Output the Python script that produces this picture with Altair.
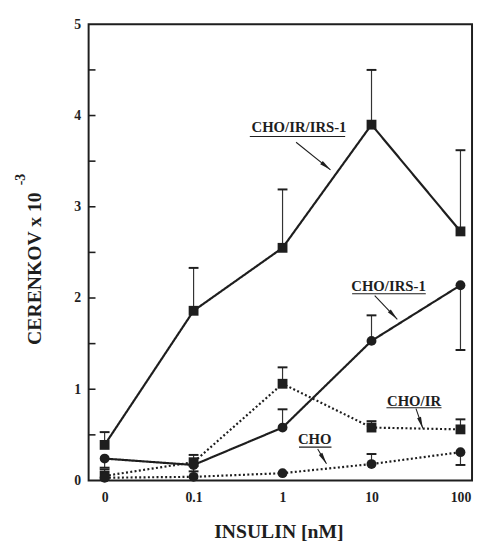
import math
import altair as alt
import pandas as pd

# ---- data ----
doses = ["0", "0.1", "1", "10", "100"]
series_names = ["CHO/IR/IRS-1", "CHO/IRS-1", "CHO/IR", "CHO"]
irirs_mean = [0.39, 1.86, 2.55, 3.90, 2.73]
irirs_err = [0.53, 2.33, 3.19, 4.50, 3.62]
irs_mean = [0.24, 0.17, 0.58, 1.53, 2.14]
irs_err = [0.14, 0.10, 0.78, 1.81, 1.43]
ir_mean = [0.05, 0.20, 1.06, 0.58, 0.56]
ir_err = [0.12, 0.28, 1.24, 0.65, 0.67]
cho_mean = [0.03, 0.04, 0.08, 0.18, 0.31]
cho_err = [None, None, None, 0.29, 0.17]
y_ticks = [0, 1, 2, 3, 4, 5]
y_minor = [0.5, 1, 1.5, 2, 2.5, 3, 3.5, 4, 4.5]

# annotation label anchors (data coordinates)
ann_label = ["CHO/IR/IRS-1", "CHO/IRS-1", "CHO/IR", "CHO"]
ann_x = [2.185, 3.191, 3.478, 2.362]
ann_y = [3.87, 2.134, 0.873, 0.453]
ann_ux1 = [1.632, 2.782, 3.168, 2.185]
ann_ux2 = [2.704, 3.610, 3.787, 2.550]
ann_uy = [3.77, 2.047, 0.797, 0.366]
arr_x1 = [2.152, 3.036, 3.500, 2.395]
arr_y1 = [3.707, 2.026, 0.787, 0.345]
arr_x2 = [2.539, 3.290, 3.577, 2.494]
arr_y2 = [3.405, 1.767, 0.571, 0.183]

means = [irirs_mean, irs_mean, ir_mean, cho_mean]
errs = [irirs_err, irs_err, ir_err, cho_err]
shapes = ["square", "circle", "square", "circle"]
dashes = ["solid", "solid", "dotted", "dotted"]

rows = []
for s, m, e, sh, da in zip(series_names, means, errs, shapes, dashes):
    for i, (mv, ev) in enumerate(zip(m, e)):
        rows.append(dict(series=s, idx=i, mean=mv, err=ev, shape=sh, dash=da))
df = pd.DataFrame(rows)
df_err = df.dropna(subset=["err"])

W, H = 390, 464
XDOM = [-0.18, 4.13]
YDOM = [0, 5]
px_x = W / (XDOM[1] - XDOM[0])
px_y = H / (YDOM[1] - YDOM[0])

ann = pd.DataFrame(dict(label=ann_label, x=ann_x, y=ann_y, ux1=ann_ux1, ux2=ann_ux2,
                        uy=ann_uy, ax1=arr_x1, ay1=arr_y1, ax2=arr_x2, ay2=arr_y2))
ang = []
for a in ann.itertuples():
    dx = (a.ax2 - a.ax1) * px_x
    dy = -(a.ay2 - a.ay1) * px_y
    ang.append(math.degrees(math.atan2(dx, -dy)) % 360)
ann["angle"] = ang

INK = "#1e1e1e"
FONT = "Liberation Serif"

xs = alt.Scale(domain=XDOM, nice=False, zero=False)
ys = alt.Scale(domain=YDOM, nice=False)

x_enc = alt.X("idx:Q", scale=xs, axis=alt.Axis(
    values=[0, 1, 2, 3, 4],
    labelExpr="['0','0.1','1','10','100'][datum.value]",
    tickSize=0, domain=False, grid=False, labelPadding=10,
    labelFontSize=14, labelFont=FONT, labelFontWeight="bold", labelColor=INK,
    title="INSULIN [nM]", titleFontSize=20, titleFont=FONT, titleFontWeight="bold",
    titleColor=INK, titlePadding=18, titleX=193))
y_enc = alt.Y("mean:Q", scale=ys, axis=alt.Axis(
    values=y_ticks, format="d", tickSize=0, domain=False, grid=False, labelPadding=8,
    labelFontSize=14, labelFont=FONT, labelFontWeight="bold", labelColor=INK,
    title="CERENKOV x 10", titleFontSize=20, titleFont=FONT, titleFontWeight="bold",
    titleColor=INK, titleAngle=270, titleAlign="center", titleBaseline="middle",
    titleX=-55, titleY=248))

dash_scale = alt.Scale(domain=["solid", "dotted"], range=[[1, 0], [2, 2.4]])
shape_scale = alt.Scale(domain=["square", "circle"], range=["square", "circle"])

base = alt.Chart(df)

lines = base.mark_line(color=INK, strokeWidth=2.2).encode(
    x=x_enc, y=y_enc,
    detail="series:N",
    strokeDash=alt.StrokeDash("dash:N", scale=dash_scale, legend=None),
)

err_rule = alt.Chart(df_err).mark_rule(color="#333333", strokeWidth=1.2).encode(
    x=alt.X("idx:Q", scale=xs), y=alt.Y("mean:Q", scale=ys), y2="err:Q")
err_cap = alt.Chart(df_err).mark_rule(color=INK, strokeWidth=2, xOffset=-5, x2Offset=5).encode(
    x=alt.X("idx:Q", scale=xs), x2="idx:Q", y=alt.Y("err:Q", scale=ys))

points = base.mark_point(filled=True, opacity=1, color=INK, size=100).encode(
    x=alt.X("idx:Q", scale=xs), y=alt.Y("mean:Q", scale=ys),
    shape=alt.Shape("shape:N", scale=shape_scale, legend=None),
)

# inward axis ticks on the left frame
ticks_df = pd.DataFrame(dict(idx=[XDOM[0]] * len(y_minor), err=y_minor))
inner_ticks = alt.Chart(ticks_df).mark_rule(color=INK, strokeWidth=1.6, xOffset=0, x2Offset=7).encode(
    x=alt.X("idx:Q", scale=xs), x2="idx:Q", y=alt.Y("err:Q", scale=ys))

ann_base = alt.Chart(ann)
ann_text = ann_base.mark_text(font=FONT, fontWeight="bold", fontSize=15, color=INK,
                              align="center", baseline="middle").encode(
    x=alt.X("x:Q", scale=xs), y=alt.Y("y:Q", scale=ys), text="label:N")
ann_under = ann_base.mark_rule(color=INK, strokeWidth=1.2).encode(
    x=alt.X("ux1:Q", scale=xs), x2="ux2:Q", y=alt.Y("uy:Q", scale=ys))
ann_line = ann_base.mark_rule(color=INK, strokeWidth=1.1).encode(
    x=alt.X("ax1:Q", scale=xs), x2="ax2:Q", y=alt.Y("ay1:Q", scale=ys), y2="ay2:Q")
ann_head = ann_base.mark_point(shape="M0,0 L0.32,1.8 L-0.32,1.8 Z", filled=True, opacity=1,
                               color=INK, size=170).encode(
    x=alt.X("ax2:Q", scale=xs), y=alt.Y("ay2:Q", scale=ys), angle=alt.Angle("angle:Q", scale=None))

sup = alt.Chart(pd.DataFrame(dict(t=["-3"]))).mark_text(
    font=FONT, fontWeight="bold", fontSize=14, color=INK, angle=270,
    align="center", baseline="middle").encode(
    text="t:N", x=alt.value(-69), y=alt.value(158))

chart = alt.layer(
    lines, err_rule, err_cap, points, inner_ticks,
    ann_under, ann_line, ann_head, ann_text, sup
).properties(
    width=W, height=H,
    autosize=alt.AutoSizeParams(type="none"),
    padding={"left": 82, "top": 12, "right": 2, "bottom": 58},
    background="white",
).configure_view(stroke=INK, strokeWidth=2)

chart.save("out.html", embed_options={"renderer": "svg", "actions": False})
